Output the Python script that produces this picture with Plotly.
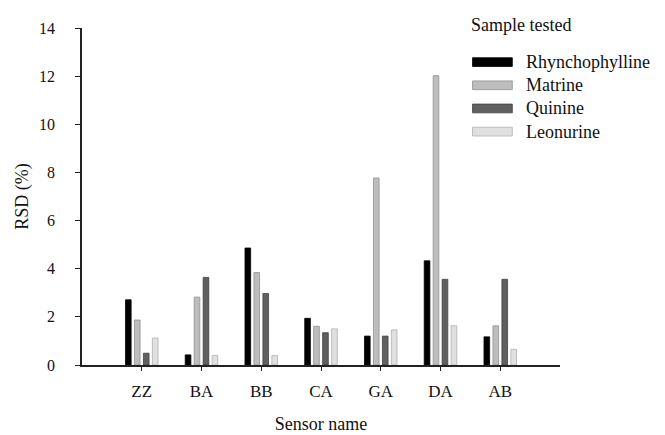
import plotly.graph_objects as go

sensors = ["ZZ", "BA", "BB", "CA", "GA", "DA", "AB"]
series_names = ["Rhynchophylline", "Matrine", "Quinine", "Leonurine"]
rhynchophylline = [2.71, 0.42, 4.86, 1.94, 1.20, 4.33, 1.17]
matrine = [1.87, 2.82, 3.84, 1.61, 7.77, 12.02, 1.63]
quinine = [0.49, 3.64, 2.97, 1.34, 1.20, 3.56, 3.56]
leonurine = [1.12, 0.40, 0.39, 1.50, 1.46, 1.63, 0.65]
y_ticks = [0, 2, 4, 6, 8, 10, 12, 14]

values = [rhynchophylline, matrine, quinine, leonurine]
fills = ["#000000", "#bdbdbd", "#606060", "#e0e0e0"]
edges = ["#000000", "#909090", "#404040", "#b0b0b0"]

OFF = 8  # page offset of the plot div
W, H = 665, 435
# target plot area in screenshot pixels: left 79, right 560, top 21, bottom 367
L, T = 79 - OFF, 21 - OFF
R = W - (560 - OFF)
B = H - (367 - OFF)
pw, ph = W - L - R, H - T - B

def px(x):
    return (x - OFF - L) / pw

def py(y):
    return (H - B - (y - OFF)) / ph

font = "Liberation Serif, Times New Roman, serif"

fig = go.Figure()
xs = list(range(len(sensors)))
for name, vals, fc, ec in zip(series_names, values, fills, edges):
    fig.add_trace(go.Bar(x=xs, y=vals, name=name, marker=dict(color=fc, line=dict(color=ec, width=0.8)),
                         showlegend=False))

shapes = []
annotations = []
annotations.append(dict(x=px(468), y=py(18), xref="paper", yref="paper", text="Sample tested",
                        showarrow=False, xanchor="left", yanchor="middle",
                        font=dict(family=font, size=18, color="#111")))
for i, (name, fc, ec) in enumerate(zip(series_names, fills, edges)):
    cy = 56 + 23.8 * i
    shapes.append(dict(type="rect", xref="paper", yref="paper", x0=px(472), x1=px(512),
                       y0=py(cy - 4.5), y1=py(cy + 4.5), fillcolor=fc, line=dict(color=ec, width=0.8)))
    annotations.append(dict(x=px(524), y=py(cy), xref="paper", yref="paper", text=name,
                            showarrow=False, xanchor="left", yanchor="middle",
                            font=dict(family=font, size=18, color="#111")))

fig.update_layout(
    width=W, height=H,
    margin=dict(l=L, r=R, t=T, b=B),
    paper_bgcolor="white", plot_bgcolor="white",
    barmode="group", bargap=0.4, bargroupgap=0.37,
    shapes=shapes, annotations=annotations,
    font=dict(family=font, size=16, color="#111"),
    xaxis=dict(range=[-1, 7], tickvals=xs, ticktext=sensors, showline=True, linecolor="#222",
               linewidth=1.5, ticks="outside", ticklen=4, tickcolor="#222", showgrid=False,
               zeroline=False, ticklabelstandoff=6,
               title=dict(text="Sensor name", font=dict(size=18), standoff=17),
               tickfont=dict(size=17)),
    yaxis=dict(range=[0, 14], tickvals=y_ticks, showline=True, linecolor="#222", linewidth=1.5,
               ticks="outside", ticklen=5, tickcolor="#222", showgrid=False, zeroline=False,
               ticklabelstandoff=17,
               title=dict(text="RSD (%)", font=dict(size=18), standoff=6), tickfont=dict(size=16)),
)

fig.write_html("out.html")
